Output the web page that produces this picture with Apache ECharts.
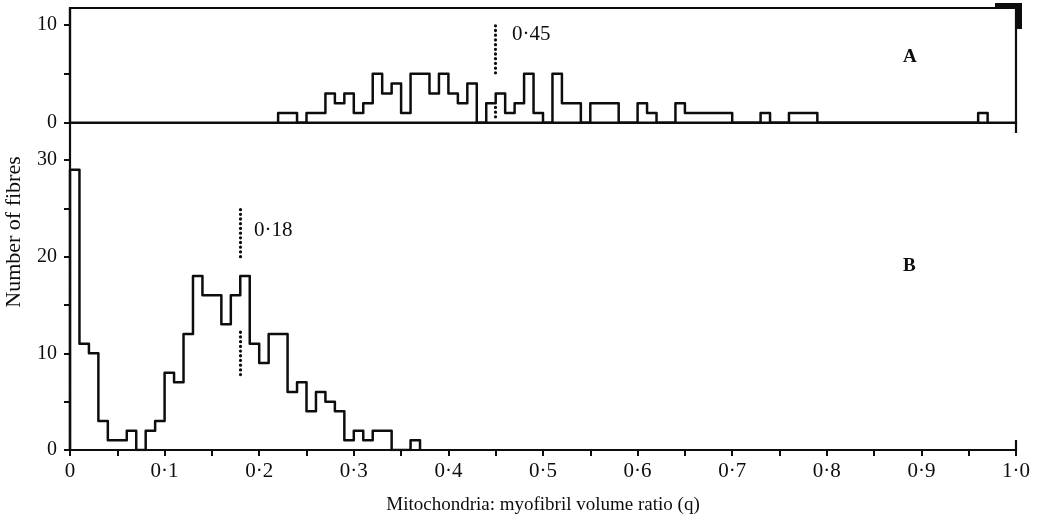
<!DOCTYPE html>
<html lang="en">
<head>
    <meta charset="utf-8">
    <title>Mitochondria: myofibril volume ratio</title>
    <script src="https://cdn.jsdelivr.net/npm/echarts@6/dist/echarts.min.js"></script>
    <style>
        html, body {margin: 0; padding: 0; background: #fff;}
    </style>
</head>
<body>
<div id="chart" style="width: 1042px;height:523px;"></div>
<script type="application/javascript">
    // bin width of both histograms
    var binWidth = 0.01;

    // A: counts per bin, first bin starts at 0.22
    var startA = 0.22;
    var countsA = [1, 1, 0, 1, 1, 3, 2, 3, 1, 2,
        5, 3, 4, 1, 5, 5, 3, 5, 3, 2,
        4, 0, 2, 3, 1, 2, 5, 1, 0, 5,
        2, 2, 0, 2, 2, 2, 0, 0, 2, 1,
        0, 0, 2, 1, 1, 1, 1, 1, 0, 0,
        0, 1, 0, 0, 1, 1, 1,
        0, 0, 0, 0, 0, 0, 0, 0, 0, 0, 0, 0, 0, 0, 0, 0, 0,
        1];

    // B: counts per bin, first bin starts at 0
    var startB = 0;
    var countsB = [29, 11, 10, 3, 1, 1, 2, 0, 2, 3,
        8, 7, 12, 18, 16, 16, 13, 16, 18, 11,
        9, 12, 12, 6, 7, 4, 6, 5, 4, 1,
        2, 1, 2, 2, 0, 0, 1];

    // dotted marker lines (mean values) and their extents
    var meanA = 0.45;
    var meanAUpper = [5.1, 10.1];
    var meanALower = [0.6, 1.6];
    var meanB = 0.18;
    var meanBUpper = [20.0, 25.1];
    var meanBLower = [7.8, 12.2];

    // ticks and labels
    var xTicks = [0, 0.05, 0.1, 0.15, 0.2, 0.25, 0.3, 0.35, 0.4, 0.45, 0.5,
        0.55, 0.6, 0.65, 0.7, 0.75, 0.8, 0.85, 0.9, 0.95, 1.0];
    var xLabels = [0, 0.1, 0.2, 0.3, 0.4, 0.5, 0.6, 0.7, 0.8, 0.9, 1.0];
    var yTicksA = [0, 5, 10];
    var yLabelsA = [0, 10];
    var yTicksB = [0, 5, 10, 15, 20, 25, 30];
    var yLabelsB = [0, 10, 20, 30];

    // turn counts into step points
    function toSteps(start, counts) {
        var pts = [[start, 0]];
        counts.forEach(function (c, i) {
            pts.push([+(start + i * binWidth).toFixed(2), c]);
        });
        pts.push([+(start + counts.length * binWidth).toFixed(2), 0]);
        return pts;
    }

    function fmtX(v) {
        if (v === 0) return '0';
        return v.toFixed(1).replace('.', '\u00b7');
    }

    var serif = '"Liberation Serif", "DejaVu Serif", serif';
    var ink = '#0d0d0d';

    var dotStyle = {color: ink, type: [0.1, 4.6], cap: 'round', width: 3.2};

    var myChart = echarts.init(document.getElementById('chart'));

    var option = {
        backgroundColor: '#fff',
        animation: false,
        grid: [
            {left: 70, right: 26, top: 8, height: 114.7, show: true, borderColor: ink, borderWidth: 2.2},
            {left: 70, right: 26, top: 122.7, height: 327.3}
        ],
        xAxis: [
            {
                gridIndex: 0, type: 'value', min: 0, max: 1,
                axisLine: {show: true, lineStyle: {color: ink, width: 2.2}},
                axisTick: {show: false}, axisLabel: {show: false}, splitLine: {show: false}
            },
            {
                gridIndex: 1, type: 'value', min: 0, max: 1,
                name: 'Mitochondria: myofibril volume ratio (q)',
                nameLocation: 'middle', nameGap: 46,
                nameTextStyle: {color: ink, fontFamily: serif, fontSize: 19},
                axisLine: {show: true, lineStyle: {color: ink, width: 2.2}},
                axisTick: {show: true, customValues: xTicks, length: 6, lineStyle: {color: ink, width: 2}},
                axisLabel: {
                    customValues: xLabels, formatter: fmtX, margin: 11,
                    color: ink, fontFamily: serif, fontSize: 21
                },
                splitLine: {show: false}
            }
        ],
        yAxis: [
            {
                gridIndex: 0, type: 'value', min: 0, max: 11.74,
                axisLine: {show: true, lineStyle: {color: ink, width: 2.2}},
                axisTick: {show: true, customValues: yTicksA, length: 6, lineStyle: {color: ink, width: 2}},
                axisLabel: {customValues: yLabelsA, margin: 13, color: ink, fontFamily: serif, fontSize: 20},
                splitLine: {show: false}
            },
            {
                gridIndex: 1, type: 'value', min: 0, max: 33.86,
                axisLine: {show: true, lineStyle: {color: ink, width: 2.2}},
                axisTick: {show: true, customValues: yTicksB, length: 6, lineStyle: {color: ink, width: 2}},
                axisLabel: {customValues: yLabelsB, margin: 13, color: ink, fontFamily: serif, fontSize: 20},
                splitLine: {show: false}
            }
        ],
        series: [
            {
                name: 'A', type: 'line', xAxisIndex: 0, yAxisIndex: 0,
                step: 'end', symbol: 'none', silent: true,
                lineStyle: {color: ink, width: 2.5, join: 'round'},
                data: toSteps(startA, countsA),
                markLine: {
                    symbol: 'none', silent: true, label: {show: false},
                    lineStyle: dotStyle,
                    data: [
                        [{coord: [meanA, meanAUpper[0]]}, {coord: [meanA, meanAUpper[1]]}],
                        [{coord: [meanA, meanALower[0]]}, {coord: [meanA, meanALower[1]]}]
                    ]
                }
            },
            {
                name: 'B', type: 'line', xAxisIndex: 1, yAxisIndex: 1,
                step: 'end', symbol: 'none', silent: true,
                lineStyle: {color: ink, width: 2.5, join: 'round'},
                data: toSteps(startB, countsB),
                markLine: {
                    symbol: 'none', silent: true, label: {show: false},
                    lineStyle: dotStyle,
                    data: [
                        [{coord: [meanB, meanBUpper[0]]}, {coord: [meanB, meanBUpper[1]]}],
                        [{coord: [meanB, meanBLower[0]]}, {coord: [meanB, meanBLower[1]]}]
                    ]
                }
            }
        ],
        graphic: [
            {type: 'text', left: 512, top: 24, style: {text: '0\u00b745', font: '21px ' + serif, fill: ink}},
            {type: 'text', left: 254, top: 220, style: {text: '0\u00b718', font: '21px ' + serif, fill: ink}},
            {type: 'text', left: 903, top: 48, style: {text: 'A', font: 'bold 19px ' + serif, fill: ink}},
            {type: 'text', left: 903, top: 257, style: {text: 'B', font: 'bold 19px ' + serif, fill: ink}},
            {
                type: 'text', x: 14, y: 232, rotation: Math.PI / 2,
                style: {text: 'Number of fibres', font: '22px ' + serif, fill: ink, align: 'center', verticalAlign: 'middle'}
            },
            // right edge of panel A running a little below its baseline
            {type: 'line', shape: {x1: 1016, y1: 122, x2: 1016, y2: 133}, style: {stroke: ink, lineWidth: 2.2}},
            {type: 'line', shape: {x1: 1016, y1: 440, x2: 1016, y2: 451}, style: {stroke: ink, lineWidth: 2.2}},
            // heavy corner mark at top right
            {type: 'rect', shape: {x: 995, y: 3, width: 27, height: 5}, style: {fill: ink}},
            {type: 'rect', shape: {x: 1016, y: 3, width: 6, height: 26}, style: {fill: ink}}
        ]
    };

    myChart.setOption(option);
</script>
</body>
</html>
